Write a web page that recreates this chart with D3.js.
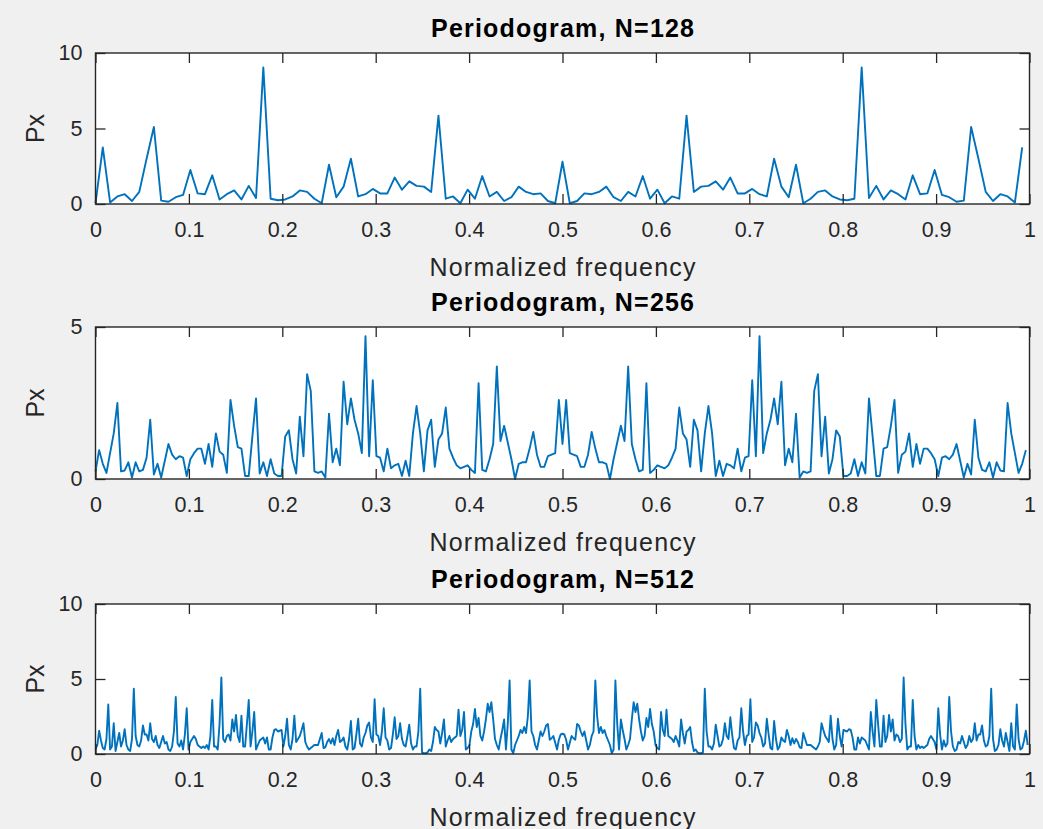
<!DOCTYPE html>
<html>
<head>
<meta charset="utf-8">
<script src="https://cdn.jsdelivr.net/npm/d3@7"></script>
<style>
  html, body { margin: 0; padding: 0; background: #f0f0f0; }
  svg { display: block; }
  text { font-family: "Liberation Sans", Arial, Helvetica, sans-serif; fill: #262626; }
</style>
</head>
<body>
<svg id="fig" width="1043" height="829"></svg>
<script>
// Frequency axis ticks shared by all three panels
const xTicks = [0, 0.1, 0.2, 0.3, 0.4, 0.5, 0.6, 0.7, 0.8, 0.9, 1];
const xTickLabels = ["0", "0.1", "0.2", "0.3", "0.4", "0.5", "0.6", "0.7", "0.8", "0.9", "1"];
const titles = ["Periodogram, N=128", "Periodogram, N=256", "Periodogram, N=512"];
const xLabel = "Normalized frequency";
const yLabel = "Px";
const yTicks128 = [0, 5, 10];
const yTicks256 = [0, 5];
const yTicks512 = [0, 5, 10];

// Periodogram values, bin k at normalized frequency k/N
const px128 = [
  0.05,3.75,0.1,0.5,0.65,0.2,0.8,3.0,5.1,0.22,0.15,0.45,0.6,2.25,0.7,0.65,
  1.9,0.3,0.65,0.9,0.3,1.2,0.4,9.05,0.35,0.25,0.3,0.5,0.9,0.8,0.35,0.05,
  2.6,0.45,1.15,3.0,0.5,0.65,1.0,0.7,0.7,1.75,0.95,1.5,1.2,1.15,0.8,5.85,
  0.35,0.5,0.05,0.95,0.35,1.85,0.5,0.8,0.2,0.45,1.15,0.8,0.65,0.7,0.2,0.05,
  2.8,0.05,0.2,0.7,0.65,0.8,1.15,0.45,0.2,0.8,0.5,1.85,0.35,0.95,0.05,0.5,
  0.35,5.85,0.8,1.15,1.2,1.5,0.95,1.75,0.7,0.7,1.0,0.65,0.5,3.0,1.15,0.45,
  2.6,0.05,0.35,0.8,0.9,0.5,0.3,0.25,0.35,9.05,0.4,1.2,0.3,0.9,0.65,0.3,
  1.9,0.65,0.7,2.25,0.6,0.45,0.15,0.22,5.1,3.0,0.8,0.2,0.65,0.5,0.1,3.75
];

const px256 = [
  0.25,0.95,0.5,0.2,0.85,1.5,2.5,0.25,0.28,0.55,0.05,0.55,0.25,0.3,0.7,1.95,
  0.15,0.5,0.05,0.6,1.15,0.8,0.65,0.75,0.7,0.1,0.65,0.85,1.0,1.0,0.5,1.15,
  0.4,1.5,0.9,0.8,0.2,2.6,1.75,1.05,1.0,0.1,0.1,1.4,2.65,0.18,0.55,0.1,
  0.65,0.18,0.1,0.1,1.4,1.6,0.65,0.18,2.05,0.75,3.45,2.9,0.25,0.2,0.25,0.05,
  2.15,0.55,1.0,0.45,3.2,1.8,2.65,1.95,1.5,0.85,4.7,0.75,3.25,0.75,0.7,0.25,
  1.0,0.35,0.45,0.5,0.1,0.6,0.1,1.5,2.4,1.5,0.25,1.6,1.95,0.4,1.3,1.5,
  2.35,1.0,0.7,0.45,0.35,0.4,0.45,0.3,0.2,3.15,0.3,0.25,0.65,1.15,3.7,1.25,
  1.75,1.2,0.65,0.0,0.5,0.55,0.55,1.0,1.55,0.8,0.4,0.4,0.75,0.8,0.85,2.6,
  1.15,2.6,0.85,0.8,0.75,0.4,0.4,0.8,1.55,1.0,0.55,0.55,0.5,0.0,0.65,1.2,
  1.75,1.25,3.7,1.15,0.65,0.25,0.3,3.15,0.2,0.3,0.45,0.4,0.35,0.45,0.7,1.0,
  2.35,1.5,1.3,0.4,1.95,1.6,0.25,1.5,2.4,1.5,0.1,0.6,0.1,0.5,0.45,0.35,
  1.0,0.25,0.7,0.75,3.25,0.75,4.7,0.85,1.5,1.95,2.65,1.8,3.2,0.45,1.0,0.55,
  2.15,0.05,0.25,0.2,0.25,2.9,3.45,0.75,2.05,0.18,0.65,1.6,1.4,0.1,0.1,0.18,
  0.65,0.1,0.55,0.18,2.65,1.4,0.1,0.1,1.0,1.05,1.75,2.6,0.2,0.8,0.9,1.5,
  0.4,1.15,0.5,1.0,1.0,0.85,0.65,0.1,0.7,0.75,0.65,0.8,1.15,0.6,0.05,0.5,
  0.15,1.95,0.7,0.3,0.25,0.55,0.05,0.55,0.28,0.25,2.5,1.5,0.85,0.2,0.5,0.95
];

const px512 = [
  0.3,0.6,1.55,0.9,0.4,0.3,1.0,3.3,0.3,0.5,2.05,0.2,0.8,1.4,0.5,0.9,
  1.65,0.6,0.3,0.2,1.0,4.35,1.2,0.6,0.5,0.9,1.9,1.3,1.3,0.9,2.05,1.0,
  0.8,1.2,0.6,0.4,0.8,1.2,0.7,0.8,0.3,0.2,0.5,1.5,3.8,0.7,0.5,0.9,
  0.3,1.3,3.05,0.3,0.8,1.0,1.2,1.0,0.6,0.5,0.4,0.5,0.4,0.6,0.3,1.2,
  3.6,0.5,0.5,0.3,2.0,5.1,1.0,0.8,1.2,1.3,0.9,2.3,1.5,2.6,1.2,0.8,
  2.55,0.5,0.5,2.0,3.6,0.5,1.5,2.8,0.3,0.6,0.9,1.0,1.1,0.7,1.1,0.3,
  0.3,1.1,1.6,1.65,1.5,1.55,1.6,0.5,1.2,2.35,0.6,0.3,1.0,2.55,0.8,1.0,
  1.2,1.6,2.05,0.8,0.5,0.3,0.4,0.5,0.6,0.6,0.6,1.0,1.4,0.4,0.45,0.8,
  1.0,0.7,1.05,0.6,1.2,1.6,0.8,0.9,1.1,0.5,0.3,1.0,2.2,0.3,0.4,1.3,
  2.35,0.7,0.5,1.1,1.4,1.9,2.1,1.1,0.8,3.65,1.3,1.2,0.6,1.5,3.05,1.1,
  0.9,0.3,0.4,1.3,2.45,1.0,1.2,2.05,1.0,0.6,0.5,1.2,1.95,0.7,0.3,0.5,
  0.5,1.5,4.35,0.1,0.05,0.05,0.1,0.3,0.2,0.8,1.8,1.6,1.5,0.7,1.4,2.3,
  0.5,0.9,1.2,0.8,1.0,1.1,1.2,2.95,1.2,1.6,2.8,0.3,0.4,0.6,1.5,2.0,
  3.0,1.8,2.4,1.2,0.9,1.5,2.3,3.35,2.8,3.45,2.3,1.0,0.6,0.3,1.0,1.6,
  2.3,0.3,2.0,4.9,0.3,0.05,0.6,0.9,1.2,1.6,1.4,1.8,1.4,2.5,4.9,1.5,
  1.2,0.6,0.3,0.9,1.5,1.2,1.5,1.9,2.0,0.95,1.05,1.2,0.75,0.3,0.95,1.3,
  1.35,1.3,0.95,0.3,0.75,1.2,1.05,0.95,2.0,1.9,1.5,1.2,1.5,0.9,0.3,0.6,
  1.2,1.5,4.9,2.5,1.4,1.8,1.4,1.6,1.2,0.9,0.6,0.05,0.3,4.9,2.0,0.3,
  2.3,1.6,1.0,0.3,0.6,1.0,2.3,3.45,2.8,3.35,2.3,1.5,0.9,1.2,2.4,1.8,
  3.0,2.0,1.5,0.6,0.4,0.3,2.8,1.6,1.2,2.95,1.2,1.1,1.0,0.8,1.2,0.9,
  0.5,2.3,1.4,0.7,1.5,1.6,1.8,0.8,0.2,0.3,0.1,0.05,0.05,0.1,4.35,1.5,
  0.5,0.5,0.3,0.7,1.95,1.2,0.5,0.6,1.0,2.05,1.2,1.0,2.45,1.3,0.4,0.3,
  0.9,1.1,3.05,1.5,0.6,1.2,1.3,3.65,0.8,1.1,2.1,1.9,1.4,1.1,0.5,0.7,
  2.35,1.3,0.4,0.3,2.2,1.0,0.3,0.5,1.1,0.9,0.8,1.6,1.2,0.6,1.05,0.7,
  1.0,0.8,0.45,0.4,1.4,1.0,0.6,0.6,0.6,0.5,0.4,0.3,0.5,0.8,2.05,1.6,
  1.2,1.0,0.8,2.55,1.0,0.3,0.6,2.35,1.2,0.5,1.6,1.55,1.5,1.65,1.6,1.1,
  0.3,0.3,1.1,0.7,1.1,1.0,0.9,0.6,0.3,2.8,1.5,0.5,3.6,2.0,0.5,0.5,
  2.55,0.8,1.2,2.6,1.5,2.3,0.9,1.3,1.2,0.8,1.0,5.1,2.0,0.3,0.5,0.5,
  3.6,1.2,0.3,0.6,0.4,0.5,0.4,0.5,0.6,1.0,1.2,1.0,0.8,0.3,3.05,1.3,
  0.3,0.9,0.5,0.7,3.8,1.5,0.5,0.2,0.3,0.8,0.7,1.2,0.8,0.4,0.6,1.2,
  0.8,1.0,2.05,0.9,1.3,1.3,1.9,0.9,0.5,0.6,1.2,4.35,1.0,0.2,0.3,0.6,
  1.65,0.9,0.5,1.4,0.8,0.2,2.05,0.5,0.3,3.3,1.0,0.3,0.4,0.9,1.55,0.6
];

// Panel layout (pixel boxes of the three axes)
const plotLeft = 95.5, plotRight = 1029.5;
const panels = [
  { values: px128, title: titles[0], ymax: 10, yTicks: yTicks128, top: 53,  bottom: 204 },
  { values: px256, title: titles[1], ymax: 5,  yTicks: yTicks256, top: 327, bottom: 479 },
  { values: px512, title: titles[2], ymax: 10, yTicks: yTicks512, top: 604, bottom: 754 }
];

const axisColor = "#262626";
const lineColor = "#0072bd";
const tickLen = 10;

const svg = d3.select("#fig");
svg.append("rect").attr("width", 1043).attr("height", 829).attr("fill", "#f0f0f0");

panels.forEach(p => {
  const n = p.values.length;
  const x = d3.scaleLinear().domain([0, 1]).range([plotLeft, plotRight]);
  const y = d3.scaleLinear().domain([0, p.ymax]).range([p.bottom, p.top]);
  const g = svg.append("g");

  // white plotting area
  g.append("rect")
    .attr("x", plotLeft).attr("y", p.top)
    .attr("width", plotRight - plotLeft).attr("height", p.bottom - p.top)
    .attr("fill", "#ffffff");

  // spectrum trace
  const line = d3.line()
    .x((d, i) => x(i / n))
    .y(d => y(d));
  g.append("path")
    .datum(p.values)
    .attr("d", line)
    .attr("fill", "none")
    .attr("stroke", lineColor)
    .attr("stroke-width", 1.9)
    .attr("stroke-linejoin", "round");

  // axes with inward ticks on all four sides
  const styleAxis = sel => {
    sel.select(".domain").remove();
    sel.selectAll(".tick line").attr("stroke", axisColor).attr("stroke-width", 1.3);
    sel.selectAll(".tick text").attr("fill", axisColor).style("font-size", "21.5px");
  };

  g.append("g")
    .attr("transform", `translate(0,${p.bottom})`)
    .call(d3.axisBottom(x).tickValues(xTicks).tickFormat((d, i) => xTickLabels[i])
      .tickSizeInner(-tickLen).tickSizeOuter(0).tickPadding(18))
    .call(styleAxis);
  g.append("g")
    .attr("transform", `translate(0,${p.top})`)
    .call(d3.axisTop(x).tickValues(xTicks).tickFormat("")
      .tickSizeInner(-tickLen).tickSizeOuter(0))
    .call(styleAxis);
  g.append("g")
    .attr("transform", `translate(${plotLeft},0)`)
    .call(d3.axisLeft(y).tickValues(p.yTicks).tickFormat(d3.format("d"))
      .tickSizeInner(-tickLen).tickSizeOuter(0).tickPadding(13))
    .call(styleAxis);
  g.append("g")
    .attr("transform", `translate(${plotRight},0)`)
    .call(d3.axisRight(y).tickValues(p.yTicks).tickFormat("")
      .tickSizeInner(-tickLen).tickSizeOuter(0))
    .call(styleAxis);

  // axes box
  g.append("rect")
    .attr("x", plotLeft).attr("y", p.top)
    .attr("width", plotRight - plotLeft).attr("height", p.bottom - p.top)
    .attr("fill", "none").attr("stroke", axisColor).attr("stroke-width", 1.4);

  const cx = (plotLeft + plotRight) / 2;

  // title
  g.append("text")
    .attr("x", cx).attr("y", p.top - 16)
    .attr("text-anchor", "middle")
    .attr("textLength", 263).attr("lengthAdjust", "spacing")
    .style("font-size", "25px").style("font-weight", "bold").style("fill", "#000")
    .text(p.title);

  // x label
  g.append("text")
    .attr("x", cx).attr("y", p.bottom + 72)
    .attr("text-anchor", "middle")
    .attr("textLength", 266).attr("lengthAdjust", "spacing")
    .style("font-size", "25px")
    .text(xLabel);

  // y label
  g.append("text")
    .attr("transform", `translate(44,${(p.top + p.bottom) / 2}) rotate(-90)`)
    .attr("text-anchor", "middle")
    .style("font-size", "25px")
    .text(yLabel);
});
</script>
</body>
</html>
